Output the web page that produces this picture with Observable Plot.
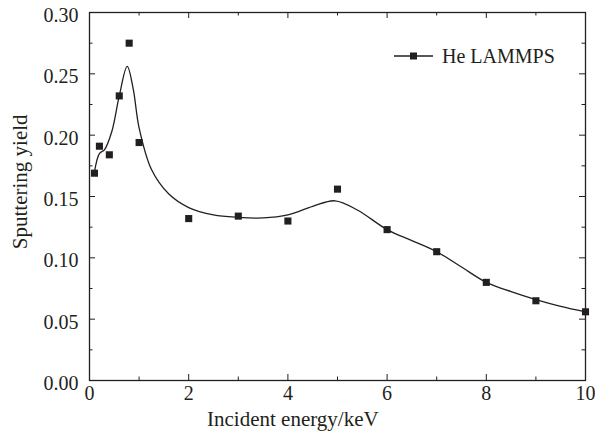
<!DOCTYPE html>
<html><head><meta charset="utf-8">
<script src="https://cdn.jsdelivr.net/npm/d3@7"></script>
<script src="https://cdn.jsdelivr.net/npm/@observablehq/plot@0.6"></script>
<style>body{margin:0;background:#fff}</style>
</head><body><div id="chart"></div>
<script>
const energy = [0.1, 0.2, 0.4, 0.6, 0.8, 1, 2, 3, 4, 5, 6, 7, 8, 9, 10];
const yieldVals = [0.169, 0.191, 0.184, 0.232, 0.275, 0.194, 0.132, 0.134, 0.130, 0.156, 0.123, 0.105, 0.080, 0.065, 0.056];
const fitEnergy = [0.1, 0.2, 0.3, 0.45, 0.6, 0.76, 0.88, 1.0, 1.25, 1.6, 2.0, 2.5, 3.0, 3.5, 4.0, 4.5, 4.95, 5.4, 6.0, 6.5, 7.0, 7.5, 8.0, 8.5, 9.0, 9.5, 10];
const fitYield = [0.170, 0.185, 0.188, 0.203, 0.232, 0.256, 0.238, 0.206, 0.172, 0.152, 0.141, 0.135, 0.133, 0.1325, 0.135, 0.142, 0.1465, 0.139, 0.123, 0.114, 0.105, 0.0925, 0.080, 0.0725, 0.066, 0.0605, 0.056];
const xTicks = [0, 2, 4, 6, 8, 10];
const xMinor = [1, 3, 5, 7, 9];
const yTicks = [0, 0.05, 0.10, 0.15, 0.20, 0.25, 0.30];
const yMinor = [0.025, 0.075, 0.125, 0.175, 0.225, 0.275];
const seriesName = "He LAMMPS";
const xTitle = "Incident energy/keV";
const yTitle = "Sputtering yield";

const points = energy.map((e, i) => ({x: e, y: yieldVals[i]}));
const fit = fitEnergy.map((e, i) => ({x: e, y: fitYield[i]}));
const ink = "#231f20";
const FONT = "Liberation Serif";

const W = 595, H = 434, mL = 89, mR = 10, mT = 12, mB = 54;
const fw = W - mL - mR, fh = H - mT - mB;

function legend(index, scales, values, dims) {
  const g = d3.create("svg:g");
  const x0 = dims.width - dims.marginRight - 191, y0 = dims.marginTop + 44;
  g.append("line").attr("x1", x0).attr("x2", x0 + 39).attr("y1", y0).attr("y2", y0)
    .attr("stroke", ink).attr("stroke-width", 1.3);
  g.append("rect").attr("x", x0 + 16).attr("y", y0 - 3.5).attr("width", 7).attr("height", 7).attr("fill", ink);
  g.append("text").attr("x", x0 + 48).attr("y", y0).attr("dy", "0.35em").attr("text-anchor", "start")
    .attr("font-size", 20).attr("font-family", FONT).attr("fill", ink).text(seriesName);
  return g.node();
}

const major = 6, minor = 3.5;
const chart = Plot.plot({
  width: W, height: H,
  marginLeft: mL, marginRight: mR, marginTop: mT, marginBottom: mB,
  x: {domain: [0, 10], label: null},
  y: {domain: [0, 0.30], label: null},
  axis: null,
  marks: [
    Plot.tickX(xTicks, {x: d => d, insetTop: fh - major, stroke: ink}),
    Plot.tickX(xMinor, {x: d => d, insetTop: fh - minor, stroke: ink}),
    Plot.tickX(xTicks, {x: d => d, insetBottom: fh - major, stroke: ink}),
    Plot.tickX(xMinor, {x: d => d, insetBottom: fh - minor, stroke: ink}),
    Plot.tickY(yTicks, {y: d => d, insetRight: fw - major, stroke: ink}),
    Plot.tickY(yMinor, {y: d => d, insetRight: fw - minor, stroke: ink}),
    Plot.tickY(yTicks, {y: d => d, insetLeft: fw - major, stroke: ink}),
    Plot.tickY(yMinor, {y: d => d, insetLeft: fw - minor, stroke: ink}),
    Plot.frame({stroke: ink, strokeWidth: 1.3}),
    Plot.text(xTicks, {x: d => d, text: d => String(d), frameAnchor: "bottom", dy: 19, fontSize: 20, fontFamily: FONT, fill: ink}),
    Plot.text(yTicks, {y: d => d, text: d => d.toFixed(2), frameAnchor: "left", textAnchor: "end", dx: -11, dy: 3, fontSize: 20, fontFamily: FONT, fill: ink}),
    Plot.text([xTitle], {x: 4.1, frameAnchor: "bottom", textAnchor: "middle", dy: 45, fontSize: 21, fontFamily: FONT, fill: ink, text: d => d}),
    Plot.text([yTitle], {y: 0.162, frameAnchor: "left", textAnchor: "middle", lineAnchor: "middle", dx: -69, rotate: -90, fontSize: 21, fontFamily: FONT, fill: ink, text: d => d}),
    Plot.line(fit, {x: "x", y: "y", curve: "catmull-rom", stroke: ink, strokeWidth: 1.3}),
    Plot.dot(points, {x: "x", y: "y", symbol: "square", r: 4, fill: ink, stroke: "none"}),
    legend
  ]
});
document.getElementById("chart").appendChild(chart);
</script>
</body></html>
